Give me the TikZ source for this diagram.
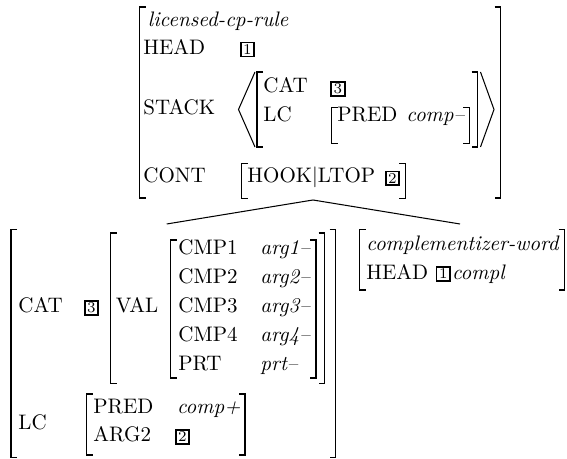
\documentclass[tikz,border=0pt]{standalone}
\usetikzlibrary{calc,fit}

% left and right square brackets: stem x, top y, bottom y
\newcommand{\lbk}[4][brk]{\draw[#1] (#2+6,#3) -| (#2,#4) -- (#2+6,#4);}
\newcommand{\rbk}[4][brk]{\draw[#1] (#2-6,#3) -| (#2,#4) -- (#2-6,#4);}

\begin{document}
\begin{tikzpicture}[x=0.4808pt,y=-0.4808pt,
  txt/.style={inner sep=0pt, anchor=base west, font=\fontsize{10.1}{12.2}\selectfont},
  tagbox/.style={draw, line width=0.75pt, inner sep=0pt,
    minimum width=6.5pt, minimum height=6.7pt, font=\fontsize{7.2}{8}\selectfont},
  brk/.style={line width=0.6pt},
  sbrk/.style={line width=0.45pt},
  ang/.style={line width=0.5pt, line join=miter},
  branch/.style={line width=0.5pt},
  frame/.style={inner sep=0pt, outer sep=0pt}]
\useasboundingbox (0,0) rectangle (567,459);

% ---------- mother: licensed-cp-rule ----------
\node[frame, fit={(139.5,7) (500.5,198)}] (mother) {};
\lbk{139.5}{7}{198}
\rbk{500.5}{7}{198}
\node[txt] (m-type) at (147.5,27) {\textit{licensed-cp-rule}};
\node[txt] (m-head) at (143,55) {HEAD};
\node[tagbox] (m-t1) at (247.5,49.5) {1};
\node[txt] (m-stack) at (143,115) {STACK};
% list of one element
\draw[ang] (255,72) -- (238.5,109.5) -- (255,147);
\lbk{257}{72}{147}
\node[txt] (m-cat) at (263,93) {CAT};
\node[tagbox] (m-t3) at (338,89) {3};
\node[txt] (m-lc) at (263,122) {LC};
\lbk[sbrk]{331.5}{107}{143}
\node[txt] (m-pred) at (337,122) {PRED};
\node[txt] (m-comp) at (406,122) {\textit{comp--}};
\rbk[sbrk]{469}{107}{143}
\rbk{477.5}{72}{147}
\draw[ang] (480.5,72) -- (494,109.5) -- (480.5,147);
\node[txt] (m-cont) at (143,183) {CONT};
\lbk[sbrk]{241.5}{163}{198}
\node[txt] (m-hook) at (247,183) {HOOK$|$LTOP};
\node[tagbox] (m-t2) at (392.5,178.3) {2};
\rbk[sbrk]{405}{163}{198}

% ---------- non-head daughter ----------
\node[frame, fit={(11,229.5) (335.5,457.5)}] (left) {};
\lbk{11}{229.5}{457.5}
\rbk{335.5}{229.5}{457.5}
\node[txt] (l-cat) at (18,313) {CAT};
\node[tagbox] (l-t3) at (91.5,308) {3};
\lbk{110.5}{233}{383.5}
\node[txt] (l-val) at (115.5,313) {VAL};
\lbk{170.5}{240}{378}
\node[txt] (l-c1) at (178,255) {CMP1};
\node[txt] (l-c2) at (178,284) {CMP2};
\node[txt] (l-c3) at (178,313) {CMP3};
\node[txt] (l-c4) at (178,342) {CMP4};
\node[txt] (l-prt) at (178,371) {PRT};
\node[txt] (l-a1) at (260,255) {\textit{arg1--}};
\node[txt] (l-a2) at (260,284) {\textit{arg2--}};
\node[txt] (l-a3) at (260,313) {\textit{arg3--}};
\node[txt] (l-a4) at (260,342) {\textit{arg4--}};
\node[txt] (l-pv) at (260,371) {\textit{prt--}};
\rbk{316}{240}{378}
\rbk{324.5}{233}{383.5}
\node[txt] (l-lc) at (18,430) {LC};
\lbk{86.5}{394}{455}
\node[txt] (l-pred) at (93,413.3) {PRED};
\node[txt] (l-comp) at (176.7,413.3) {\textit{comp+}};
\node[txt] (l-arg2) at (93,441.7) {ARG2};
\node[tagbox] (l-t2) at (182.5,437) {2};
\rbk{245}{394}{455}

% ---------- head daughter ----------
\node[frame, fit={(359.5,229.5) (564.5,290)}] (right) {};
\lbk{359.5}{229.5}{290}
\rbk{564.5}{229.5}{290}
\node[txt] (r-type) at (366,251) {\textit{complementizer-word}};
\node[txt] (r-head) at (366,279.3) {HEAD};
\node[tagbox] (r-t1) at (443.3,274) {1};
\node[txt] (r-compl) at (451.7,279.3) {\textit{compl}};

% ---------- tree branches ----------
\draw[branch] ($(mother.south)+(-7,2)$) -- ($(left.north)+(-6.5,-5.5)$);
\draw[branch] ($(mother.south)+(-7,2)$) -- ($(right.north)+(-2,-5.5)$);
\end{tikzpicture}
\end{document}
